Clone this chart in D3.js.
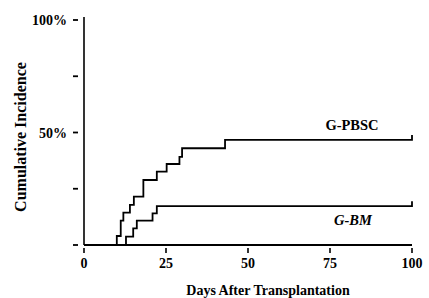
<!DOCTYPE html>
<html>
<head>
<meta charset="utf-8">
<script src="https://cdn.jsdelivr.net/npm/d3@7"></script>
<style>
  body { margin: 0; background: #fff; }
  text { font-family: "Liberation Serif", "Times New Roman", serif; font-weight: bold; fill: #000; }
</style>
</head>
<body>
<div id="chart"></div>
<script>
// step points: [day, cumulative incidence %]
var pbscDays = [0, 10, 11.2, 12, 14, 15.2, 18.1, 22.2, 25.2, 29.1, 29.9, 43, 100];
var pbscInc  = [0, 4.0, 10.8, 14.4, 17.8, 21.5, 28.9, 32.6, 36, 39.2, 43, 46.7, 48.9];

var bmDays = [0, 12.8, 15, 16.1, 20.9, 22.2, 100];
var bmInc  = [0, 3.7, 7.4, 10.8, 14.1, 17.3, 19.5];

var xTicks = [0, 25, 50, 75, 100];
var yTicks = [0, 25, 50, 75, 100];
var yTickLabels = {100: "100%", 50: "50%"};

var width = 429, height = 298;

var svg = d3.select("#chart")
    .append("svg")
    .attr("width", width)
    .attr("height", height)

var x = d3.scaleLinear()
    .domain([0, 100])
    .range([84, 412]);

var y = d3.scaleLinear()
    .domain([0, 100])
    .range([245, 20]);

// y axis line
svg.append("line")
    .attr("x1", x(0)).attr("x2", x(0))
    .attr("y1", y(100) - 3).attr("y2", y(0))
    .attr("stroke", "#000")
    .attr("stroke-width", 1.6)

// x axis line
svg.append("line")
    .attr("x1", x(0)).attr("x2", x(100))
    .attr("y1", y(0)).attr("y2", y(0))
    .attr("stroke", "#000")
    .attr("stroke-width", 2.2)

// detached tick dashes on the left
svg.selectAll(".ytick")
    .data(yTicks)
    .enter()
    .append("line")
    .attr("class", "ytick")
    .attr("x1", x(0) - 11).attr("x2", x(0) - 6)
    .attr("y1", function (d) { return y(d); })
    .attr("y2", function (d) { return y(d); })
    .attr("stroke", "#000")
    .attr("stroke-width", 1.8)

svg.selectAll(".ylab")
    .data(yTicks.filter(function (d) { return yTickLabels[d]; }))
    .enter()
    .append("text")
    .attr("class", "ylab")
    .attr("x", 67)
    .attr("y", function (d) { return y(d) + 5; })
    .attr("text-anchor", "end")
    .style("font-size", "14px")
    .text(function (d) { return yTickLabels[d]; })

// ticks below the x axis
svg.selectAll(".xtick")
    .data(xTicks)
    .enter()
    .append("line")
    .attr("class", "xtick")
    .attr("x1", function (d) { return x(d); })
    .attr("x2", function (d) { return x(d); })
    .attr("y1", y(0) + 3).attr("y2", y(0) + 8)
    .attr("stroke", "#000")
    .attr("stroke-width", 1.6)

svg.selectAll(".xlab")
    .data(xTicks)
    .enter()
    .append("text")
    .attr("class", "xlab")
    .attr("x", function (d) { return x(d); })
    .attr("y", 268)
    .attr("text-anchor", "middle")
    .style("font-size", "14px")
    .text(function (d) { return d; })

// step curves
var line = d3.line()
    .x(function (d) { return x(d[0]); })
    .y(function (d) { return y(d[1]); })
    .curve(d3.curveStepAfter);

var pbsc = pbscDays.map(function (d, i) { return [d, pbscInc[i]]; });
var bm = bmDays.map(function (d, i) { return [d, bmInc[i]]; });

[pbsc, bm].forEach(function (s) {
    svg.append("path")
        .datum(s)
        .attr("d", line)
        .attr("fill", "none")
        .attr("stroke", "#000")
        .attr("stroke-width", 1.8)
})

// curve labels
svg.append("text")
    .attr("x", 352)
    .attr("y", 130)
    .attr("text-anchor", "middle")
    .style("font-size", "14.5px")
    .text("G-PBSC")

svg.append("text")
    .attr("x", 353)
    .attr("y", 225)
    .attr("text-anchor", "middle")
    .style("font-size", "14.5px")
    .style("font-style", "italic")
    .text("G-BM")

// axis titles
svg.append("text")
    .attr("transform", "translate(26,137) rotate(-90)")
    .attr("text-anchor", "middle")
    .style("font-size", "16px")
    .text("Cumulative Incidence")

svg.append("text")
    .attr("x", 268)
    .attr("y", 295)
    .attr("text-anchor", "middle")
    .style("font-size", "14px")
    .text("Days After Transplantation")
</script>
</body>
</html>
